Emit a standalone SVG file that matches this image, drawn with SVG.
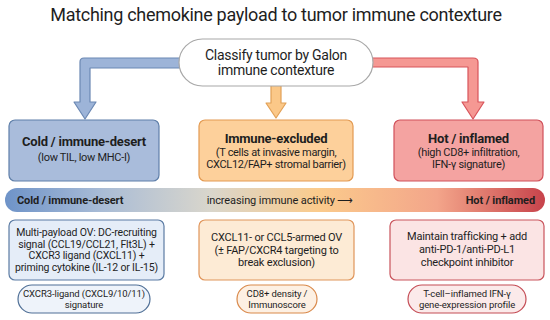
<svg xmlns="http://www.w3.org/2000/svg" width="550" height="320" viewBox="0 0 550 320">
<defs>
<linearGradient id="bar" x1="0" y1="0" x2="1" y2="0">
<stop offset="0" stop-color="#6e93c8"/>
<stop offset="0.18" stop-color="#a9bcd6"/>
<stop offset="0.38" stop-color="#d9d6cc"/>
<stop offset="0.58" stop-color="#fbcb8c"/>
<stop offset="0.8" stop-color="#f3a58a"/>
<stop offset="1" stop-color="#c7434b"/>
</linearGradient>
<style>
text{font-family:Roboto,"Liberation Sans",sans-serif;fill:#1e1e1e;text-anchor:middle}
.t{font-size:18px;letter-spacing:-0.3px}
.c{font-size:14px;letter-spacing:-0.25px}
.h{font-size:13px;font-weight:bold;letter-spacing:-0.2px}
.s{font-size:11px;letter-spacing:-0.3px}
.b{font-size:11px;letter-spacing:-0.2px}
.bs{font-size:10.5px;letter-spacing:-0.15px}
.p{font-size:9.5px;letter-spacing:-0.1px}
.bar{font-size:11px;letter-spacing:-0.1px}
</style>
</defs>
<rect width="550" height="320" fill="#ffffff"/>
<text class="t" x="276" y="21">Matching chemokine payload to tumor immune contexture</text>
<g id="connectors" stroke-width="1.2" stroke-linejoin="round">
<path d="M185,58 H84 Q80,58 80,62 V102 H74 L85,119 L96,102 H90 V68 H185 Z" fill="#9db4d8" stroke="#6b88b3"/>
<path d="M367,58 H473 Q478,58 478,62 V102 H484 L473,119 L462,102 H468 V67 H367 Z" fill="#f59893" stroke="#d8545b"/>
<path d="M271,84 V103 H266 L276,118 L286,103 H281 V84 Z" fill="#fbc888" stroke="#e2a157"/>
</g>
<g id="classify">
<rect x="179" y="39" width="194" height="47" rx="23.5" fill="#ffffff" stroke="#a8a8a8" stroke-width="1.2"/>
<text class="c" x="276" y="60">Classify tumor by Galon</text>
<text class="c" x="276" y="75">immune contexture</text>
</g>
<g id="cold">
<rect x="9" y="120" width="150" height="61" rx="6" fill="#a9bcdb" stroke="#5f7fa9" stroke-width="1.2"/>
<text class="h" x="84" y="146">Cold / immune-desert</text>
<text class="s" x="84" y="161">(low TIL, low MHC-I)</text>
</g>
<g id="excluded">
<rect x="199" y="120" width="154" height="61" rx="6" fill="#fdd09b" stroke="#e39a52" stroke-width="1.2"/>
<text class="h" x="276" y="143">Immune-excluded</text>
<text class="s" x="276" y="155.5">(T cells at invasive margin,</text>
<text class="s" x="276" y="167.5">CXCL12/FAP+ stromal barrier)</text>
</g>
<g id="hot">
<rect x="394" y="120" width="149" height="61" rx="6" fill="#f4a3a1" stroke="#d0505a" stroke-width="1.2"/>
<text class="h" x="468.5" y="143">Hot / inflamed</text>
<text class="s" x="468.5" y="156">(high CD8+ infiltration,</text>
<text class="s" x="468.5" y="168">IFN-γ signature)</text>
</g>
<g id="gradient-bar">
<rect x="5" y="188" width="540" height="24" rx="12" fill="url(#bar)"/>
<text class="bar" x="17" y="204" style="text-anchor:start;font-weight:bold">Cold / immune-desert</text>
<text class="bar" x="280" y="204">increasing immune activity ⟶</text>
<text class="bar" x="535" y="204" style="text-anchor:end;font-weight:bold">Hot / inflamed</text>
</g>
<g id="cold-strategy">
<rect x="9" y="220" width="155" height="60" rx="6" fill="#e5edf8" stroke="#5b7ba3" stroke-width="1.2"/>
<text class="bs" x="86.5" y="236">Multi-payload OV: DC-recruiting</text>
<text class="bs" x="86.5" y="247.5">signal (CCL19/CCL21, Flt3L) +</text>
<text class="bs" x="86.5" y="259">CXCR3 ligand (CXCL11) +</text>
<text class="bs" x="86.5" y="270.5">priming cytokine (IL-12 or IL-15)</text>
</g>
<g id="excluded-strategy">
<rect x="199" y="220" width="155" height="60" rx="6" fill="#fdebd5" stroke="#e0955a" stroke-width="1.2"/>
<text class="b" x="276.5" y="241">CXCL11- or CCL5-armed OV</text>
<text class="b" x="276.5" y="254">(± FAP/CXCR4 targeting to</text>
<text class="b" x="276.5" y="266">break exclusion)</text>
</g>
<g id="hot-strategy">
<rect x="390" y="220" width="154" height="60" rx="6" fill="#fbe4e4" stroke="#c9545c" stroke-width="1.2"/>
<text class="b" x="467" y="240">Maintain trafficking + add</text>
<text class="b" x="467" y="253">anti-PD-1/anti-PD-L1</text>
<text class="b" x="467" y="266">checkpoint inhibitor</text>
</g>
<g id="cold-biomarker">
<rect x="18" y="285" width="132" height="28" rx="14" fill="#eef3fa" stroke="#4f6f96" stroke-width="1.2"/>
<text class="p" x="84" y="297">CXCR3-ligand (CXCL9/10/11)</text>
<text class="p" x="84" y="308">signature</text>
</g>
<g id="excluded-biomarker">
<rect x="237" y="285" width="80" height="28" rx="14" fill="#fdf0e3" stroke="#d9894b" stroke-width="1.2"/>
<text class="p" x="277" y="297">CD8+ density /</text>
<text class="p" x="277" y="308">Immunoscore</text>
</g>
<g id="hot-biomarker">
<rect x="408" y="285" width="118" height="28" rx="14" fill="#fbeaea" stroke="#c44c55" stroke-width="1.2"/>
<text class="p" x="467" y="297">T-cell–inflamed IFN-γ</text>
<text class="p" x="467" y="308">gene-expression profile</text>
</g>
</svg>
